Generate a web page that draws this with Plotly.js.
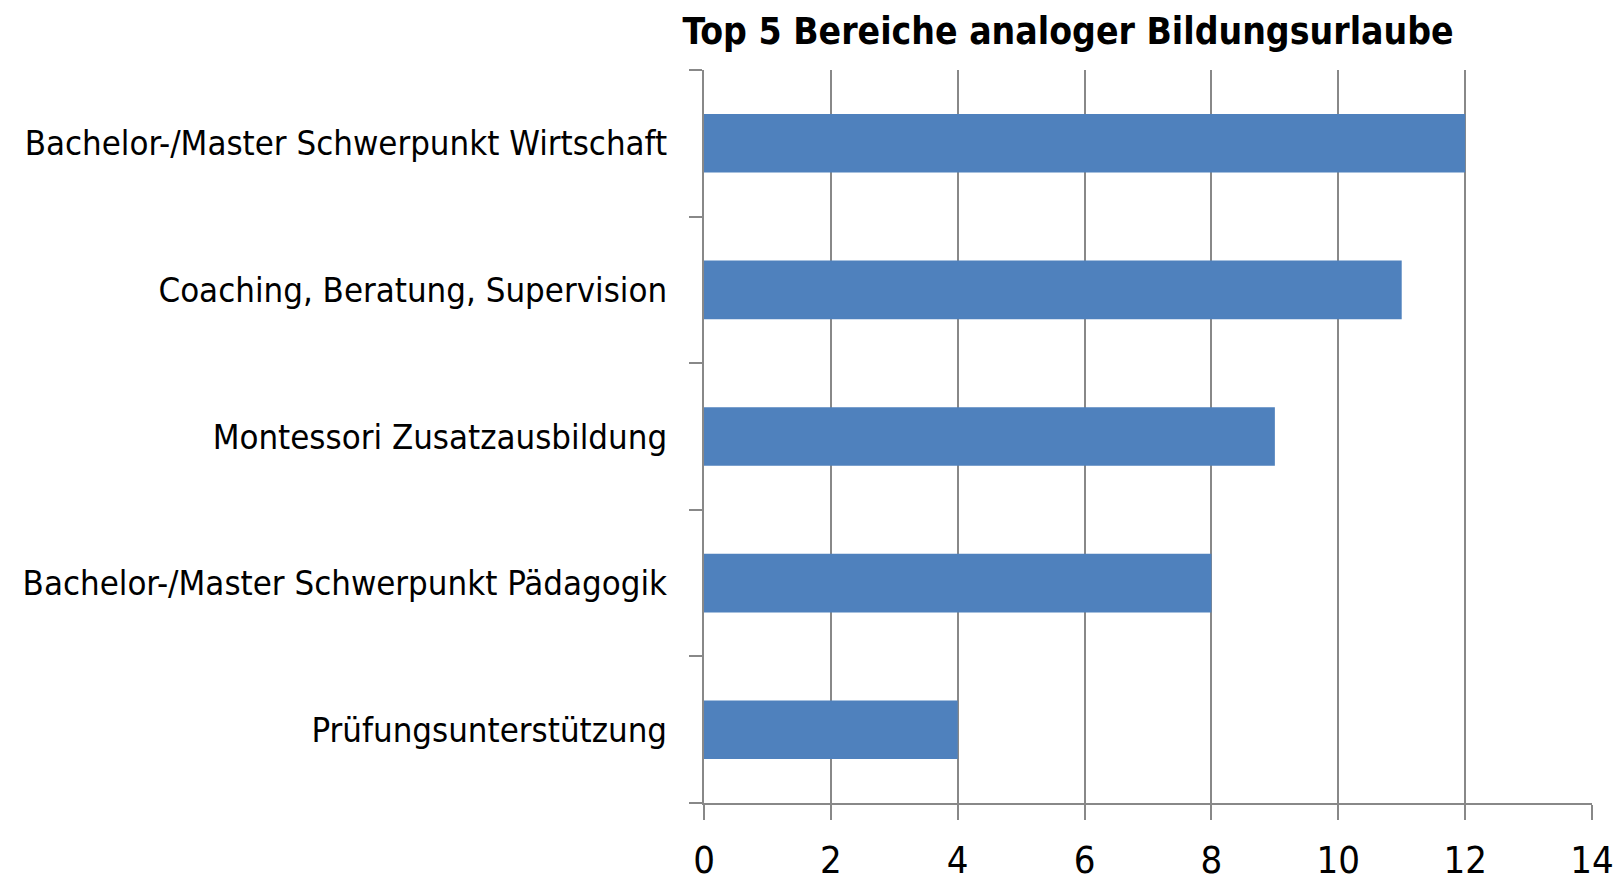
<!DOCTYPE html>
<html><head><meta charset="utf-8">
<script src="https://cdn.plot.ly/plotly-3.0.1.min.js"></script>
<style>html,body{margin:0;padding:0;background:#fff}#chart{width:1623px;height:884px}</style>
</head><body><div id="chart"></div>
<script>
const categories = ["Bachelor-/Master Schwerpunkt Wirtschaft","Coaching, Beratung, Supervision","Montessori Zusatzausbildung","Bachelor-/Master Schwerpunkt Pädagogik","Prüfungsunterstützung"];
const values = [12, 11, 9, 8, 4];
const xTicks = [0,2,4,6,8,10,12,14];
const chartTitle = "Top 5 Bereiche analoger Bildungsurlaube";

const narrow = '"Liberation Sans Narrow", "DejaVu Sans Condensed", Arial, sans-serif';
const trace = {
  type: 'bar', orientation: 'h',
  x: values.slice().reverse(), y: categories.slice().reverse(),
  marker: {color: '#4F81BD'}, width: 0.4, hoverinfo: 'none'
};
const layout = {
  width: 1623, height: 884,
  margin: {l: 704, r: 31, t: 70, b: 81},
  paper_bgcolor: '#fff', plot_bgcolor: '#fff',
  showlegend: false,
  title: {text: '<b>' + chartTitle + '</b>', x: 1068/1623, xanchor: 'center', y: 1 - 31/884, yanchor: 'middle',
          font: {family: narrow, size: 37, color: '#000'}},
  xaxis: {range: [0, 14], tickvals: xTicks, ticktext: xTicks.map(String),
          showgrid: true, gridcolor: '#888', gridwidth: 2,
          showline: true, linecolor: '#888', linewidth: 2,
          ticks: 'outside', ticklen: 15, tickcolor: '#888', tickwidth: 2,
          zeroline: false, fixedrange: true, ticklabelstandoff: 7,
          tickfont: {family: narrow, size: 38, color: '#000'}},
  yaxis: {showgrid: false, showline: true, linecolor: '#888', linewidth: 2,
          ticks: 'outside', ticklen: 13, tickcolor: '#888', tickwidth: 2,
          tickson: 'boundaries', fixedrange: true,
          ticklabelstandoff: 28,
          tickfont: {family: narrow, size: 34.5, color: '#000'}},
  bargap: 0.6
};
Plotly.newPlot('chart', [trace], layout, {displayModeBar: false, staticPlot: true});
</script></body></html>
